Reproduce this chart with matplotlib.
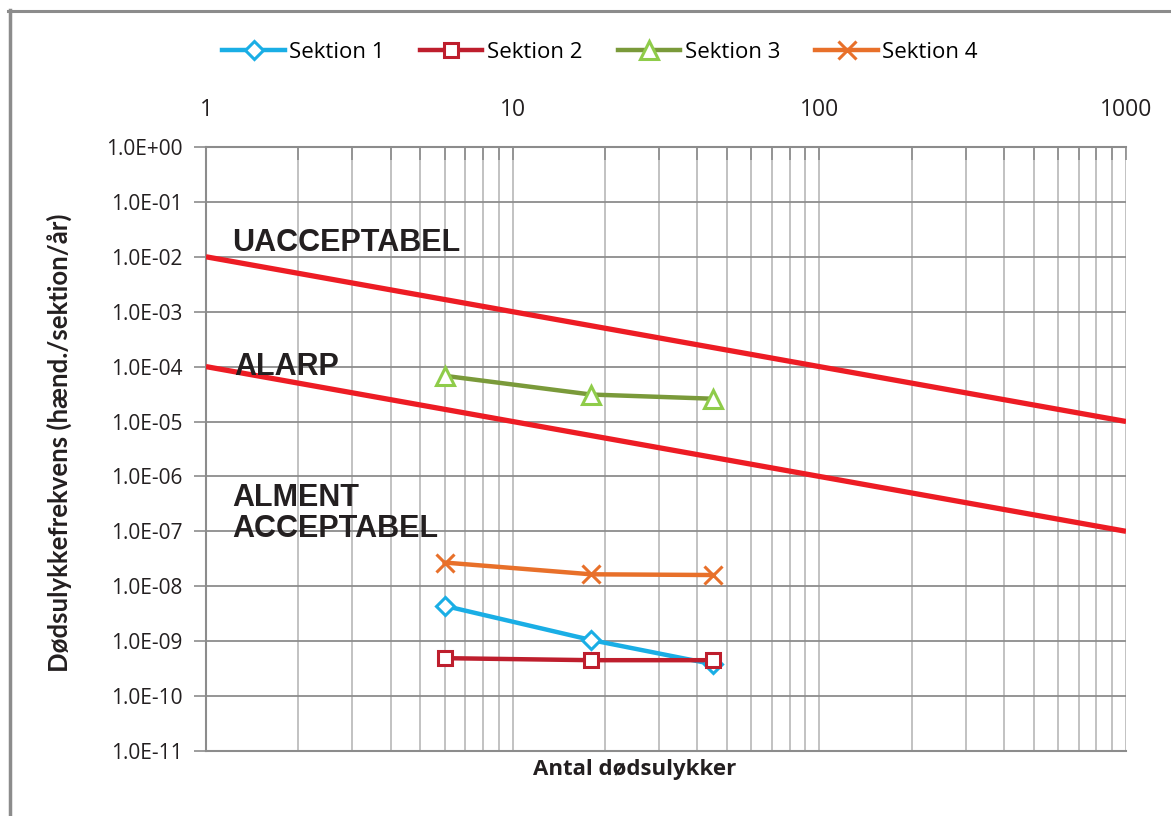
import matplotlib
matplotlib.use("Agg")
import matplotlib.pyplot as plt
import matplotlib.ticker as mticker
from matplotlib.lines import Line2D
import numpy as np

plt.rcParams['font.family'] = ['Open Sans', 'DejaVu Sans']

# data
fatalities = [6, 18, 45]
sektion_names = ["Sektion 1", "Sektion 2", "Sektion 3", "Sektion 4"]
sektion_1 = [4.4e-9, 1.05e-9, 3.8e-10]
sektion_2 = [4.9e-10, 4.5e-10, 4.5e-10]
sektion_3 = [6.8e-5, 3.1e-5, 2.6e-5]
sektion_4 = [2.7e-8, 1.65e-8, 1.6e-8]

# criteria lines (F-N limits)
limit_x = [1, 1000]
upper_limit = [1e-2, 1e-5]
lower_limit = [1e-4, 1e-7]

y_ticks = [1e-11, 1e-10, 1e-9, 1e-8, 1e-7, 1e-6, 1e-5, 1e-4, 1e-3, 1e-2, 1e-1, 1e0]

series = [sektion_1, sektion_2, sektion_3, sektion_4]
line_colors = ['#1aaee5', '#be1e2d', '#7a9a3a', '#e8702a']
marker_colors = ['#1aaee5', '#be1e2d', '#8fcc4a', '#e8702a']
markers = ['D', 's', '^', 'x']
marker_sizes = [9, 10, 13, 13]

fig = plt.figure(figsize=(11.71, 8.16), dpi=100)
ax = fig.add_axes([0.1759, 0.0797, 0.7857, 0.7402])

ax.set_xscale('log')
ax.set_yscale('log')
ax.set_xlim(1, 1000)
ax.set_ylim(1e-11, 1)

# grid
ax.grid(True, which='major', axis='y', color='#8c8c8c', lw=1.3)
ax.grid(True, which='both', axis='x', color='#bdbdbd', lw=1.3)
ax.set_axisbelow(True)

# red limit lines
ax.plot(limit_x, upper_limit, color='#ed1c24', lw=3.8, solid_capstyle='butt', zorder=3)
ax.plot(limit_x, lower_limit, color='#ed1c24', lw=3.8, solid_capstyle='butt', zorder=3)

handles = []
for vals, name, lc, mc, m, ms in zip(series, sektion_names, line_colors,
                                     marker_colors, markers, marker_sizes):
    ax.plot(fatalities, vals, color=lc, lw=3.2, zorder=4)
    ax.plot(fatalities, vals, ls='none', marker=m, ms=ms, mfc='white' if m != 'x' else lc,
            mec=mc, mew=2.2, zorder=5)
    handles.append(Line2D([], [], color=lc, lw=3.2, marker=m, ms=ms,
                          mfc='white' if m != 'x' else lc, mec=mc, mew=2.2))

# text regions
zone_style = dict(family='Liberation Sans', weight='bold', fontsize=22,
                  color='#231f20', va='center', ha='left', zorder=6)
ax.text(1.22, 10 ** -1.75, "UACCEPTABEL", **zone_style)
ax.text(1.24, 10 ** -4.0, "ALARP", **zone_style)
ax.text(1.22, 10 ** -6.67, "ALMENT\nACCEPTABEL", linespacing=1.05, **zone_style)

# x axis at top
ax.xaxis.set_ticks_position('top')
ax.xaxis.set_major_formatter(mticker.FuncFormatter(lambda v, p: f"{v:g}"))
ax.xaxis.set_minor_formatter(mticker.NullFormatter())
ax.tick_params(axis='x', which='both', direction='in', length=9, width=1.2,
               color='#8c8c8c', labelsize=16.5, pad=18, labelcolor='#231f20')

def sci_fmt(v, pos):
    e = int(round(np.log10(v)))
    sign = '+' if e >= 0 else '-'
    return f"1.0E{sign}{abs(e):02d}"

ax.yaxis.set_major_locator(mticker.FixedLocator(y_ticks))
ax.yaxis.set_major_formatter(mticker.FuncFormatter(sci_fmt))
ax.yaxis.set_minor_locator(mticker.NullLocator())
ax.tick_params(axis='y', which='major', direction='out', length=9, width=1.2,
               color='#8c8c8c', labelsize=15, pad=8, labelcolor='#231f20')

for s in ['top', 'left', 'bottom']:
    ax.spines[s].set_color('#8c8c8c')
    ax.spines[s].set_linewidth(1.5)
ax.spines['right'].set_visible(False)

ax.set_xlabel("Antal dødsulykker", fontsize=16, weight='bold', color='#231f20')
ax.xaxis.set_label_coords(0.466, -0.013)
ax.set_ylabel("Dødsulykkefrekvens (hænd./sektion/år)", fontsize=18.5, weight='bold',
              color='#231f20', family=['Lato', 'DejaVu Sans'])
ax.yaxis.set_label_coords(-0.146, 0.51)

fig.legend(handles, sektion_names, loc='center', bbox_to_anchor=(600 / 1171, 1 - 52 / 816),
           ncol=4, frameon=False, fontsize=16, handlelength=2.8, columnspacing=1.6,
           handletextpad=0.2)

# outer border (left and top)
fig.add_artist(Line2D([9.5 / 1171, 9.5 / 1171], [0, 1 - 10 / 816], color='#8c8c8c', lw=2.5,
                      transform=fig.transFigure))
fig.add_artist(Line2D([8 / 1171, 1], [1 - 11 / 816, 1 - 11 / 816], color='#8c8c8c', lw=2.2,
                      transform=fig.transFigure))

fig.savefig("out.png", dpi=100)
